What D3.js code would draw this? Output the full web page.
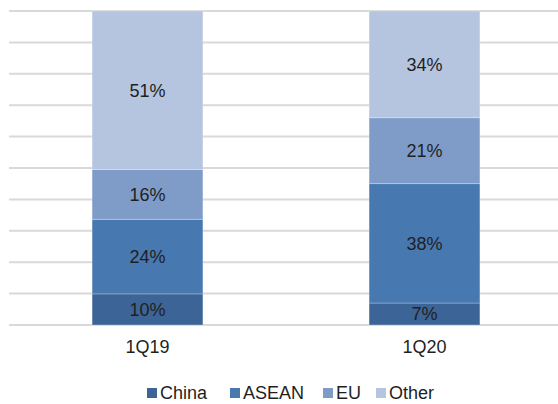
<!DOCTYPE html>
<html>
<head>
<meta charset="utf-8">
<script src="https://cdn.jsdelivr.net/npm/d3@7"></script>
<style>
  html, body { margin: 0; padding: 0; background: #fff; }
  svg { display: block; font-family: "Liberation Sans", Arial, sans-serif; }
</style>
</head>
<body>
<svg id="chart" width="558" height="404"></svg>
<script>
// Share of exports by destination, per quarter
const categories = ["1Q19", "1Q20"];
const seriesNames = ["China", "ASEAN", "EU", "Other"];
const china = [10, 7];
const asean = [24, 38];
const eu = [16, 21];
const other = [51, 34];
const colors = ["#3d6496", "#4878b0", "#7f9cc8", "#b5c4df"];
const gridTicks = [0, 0.1, 0.2, 0.3, 0.4, 0.5, 0.6, 0.7, 0.8, 0.9, 1.0];

const rows = categories.map((c, i) => ({
  cat: c, China: china[i], ASEAN: asean[i], EU: eu[i], Other: other[i]
}));

const svg = d3.select("#chart");
const W = 558;
const plotLeft = 9, plotTop = 11, plotBottom = 325;

const x = d3.scaleBand().domain(categories).range([plotLeft, 563]).padding(0);
const barW = x.bandwidth() * 0.4;
const y = d3.scaleLinear().domain([0, 1]).range([plotBottom, plotTop]);

// each column is shown as a 100% stack
const stack = d3.stack().keys(seriesNames).offset(d3.stackOffsetExpand);
const layers = stack(rows);
const color = d3.scaleOrdinal().domain(seriesNames).range(colors);

// gridlines
svg.append("g")
  .selectAll("line")
  .data(gridTicks)
  .join("line")
  .attr("x1", plotLeft).attr("x2", W)
  .attr("y1", d => y(d)).attr("y2", d => y(d))
  .attr("stroke", "#d9d9d9")
  .attr("stroke-width", 2);

// stacked bars
const g = svg.append("g");
layers.forEach(layer => {
  const key = layer.key;
  g.append("g")
    .selectAll("rect")
    .data(layer)
    .join("rect")
    .attr("x", d => x(d.data.cat) + (x.bandwidth() - barW) / 2)
    .attr("width", barW)
    .attr("y", d => y(d[1]))
    .attr("height", d => y(d[0]) - y(d[1]))
    .attr("fill", color(key))
    .attr("stroke", "rgba(255,255,255,0.35)")
    .attr("stroke-width", 0.75);

  g.append("g")
    .selectAll("text")
    .data(layer)
    .join("text")
    .attr("x", d => x(d.data.cat) + x.bandwidth() / 2)
    .attr("y", d => (y(d[0]) + y(d[1])) / 2)
    .attr("dy", "0.36em")
    .attr("text-anchor", "middle")
    .attr("font-size", 18)
    .attr("fill", "#1f1f1f")
    .text(d => d.data[key] + "%");
});

// category axis labels
svg.append("g")
  .selectAll("text")
  .data(categories)
  .join("text")
  .attr("x", d => x(d) + x.bandwidth() / 2)
  .attr("y", 353)
  .attr("text-anchor", "middle")
  .attr("font-size", 18)
  .attr("fill", "#1f1f1f")
  .text(d => d);

// legend
const legendX = [147, 230, 323, 376];
const legend = svg.append("g");
seriesNames.forEach((name, i) => {
  legend.append("rect")
    .attr("x", legendX[i]).attr("y", 388)
    .attr("width", 10).attr("height", 10)
    .attr("fill", colors[i]);
  legend.append("text")
    .attr("x", legendX[i] + 13).attr("y", 399)
    .attr("font-size", 18)
    .attr("fill", "#1f1f1f")
    .text(name);
});
</script>
</body>
</html>
